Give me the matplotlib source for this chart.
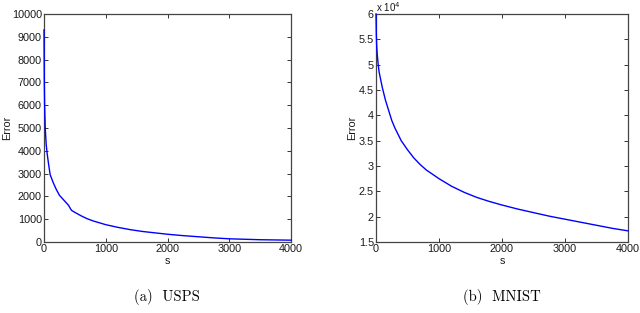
import matplotlib
matplotlib.use("Agg")
import matplotlib.pyplot as plt
import numpy as np

usps_s = [0, 5, 10, 20, 35, 50, 75, 100, 150, 200, 250, 300, 350, 400, 430, 450, 500, 600, 700, 800, 900, 1000,
          1200, 1400, 1600, 1800, 2000, 2250, 2500, 2750, 3000, 3250, 3500, 3750, 4000]
usps_err = [9300, 7000, 6000, 5000, 4300, 3900, 3400, 2950, 2600, 2300, 2050, 1900, 1750, 1600, 1450, 1380,
            1300, 1150, 1020, 920, 840, 760, 640, 540, 460, 400, 340, 280, 230, 180, 140, 120, 100, 90, 80]

mnist_s = [0, 5, 10, 20, 35, 50, 75, 100, 150, 200, 250, 300, 400, 500, 600, 700, 800, 1000, 1200, 1400, 1600,
           1800, 2000, 2250, 2500, 2750, 3000, 3250, 3500, 3750, 4000]
mnist_err = [6.0e4, 5.6e4, 5.4e4, 5.2e4, 5.0e4, 4.85e4, 4.7e4, 4.55e4, 4.3e4, 4.1e4, 3.9e4, 3.75e4, 3.5e4,
             3.32e4, 3.16e4, 3.03e4, 2.92e4, 2.75e4, 2.6e4, 2.48e4, 2.38e4, 2.3e4, 2.23e4, 2.15e4, 2.08e4,
             2.01e4, 1.95e4, 1.89e4, 1.83e4, 1.77e4, 1.72e4]

captions = ["(a)  USPS", "(b)  MNIST"]

W, H = 640, 313
fig = plt.figure(figsize=(W / 100, H / 100), dpi=100)
plt.rcParams['font.family'] = ['Liberation Sans', 'DejaVu Sans']

def add_ax(l, r, t, b):
    return fig.add_axes([l / W, 1 - b / H, (r - l) / W, (b - t) / H])

ax1 = add_ax(44, 291, 14, 242)
ax2 = add_ax(376, 628, 14, 242)

for ax in (ax1, ax2):
    ax.tick_params(direction='in', top=True, right=True, labelsize=7.8, length=3, width=0.7, pad=1.5,
                   colors='#333333', labelcolor='#1a1a1a')
    for sp in ax.spines.values():
        sp.set_linewidth(0.9)
        sp.set_color('#444444')
    ax.set_xlim(0, 4000)
    ax.set_xticks([0, 1000, 2000, 3000, 4000])
    ax.set_xlabel('s', fontsize=7.8, labelpad=1.5, color='#1a1a1a')
    ax.set_ylabel('Error', fontsize=7.8, color='#1a1a1a')

ax1.yaxis.set_label_coords((12 - 44) / 247, 0.5)
ax2.yaxis.set_label_coords((357 - 376) / 252, 0.5)

ax1.plot(usps_s, usps_err, color='#0000ff', lw=1.0, zorder=3, clip_on=False)
ax1.set_ylim(0, 10000)
ax1.set_yticks(np.arange(0, 10001, 1000))

ax2.plot(mnist_s, np.array(mnist_err) / 1e4, color='#0000ff', lw=1.0, zorder=3, clip_on=False)
ax2.set_ylim(1.5, 6)
ax2.set_yticks([1.5, 2, 2.5, 3, 3.5, 4, 4.5, 5, 5.5, 6])
ax2.set_yticklabels(['1.5', '2', '2.5', '3', '3.5', '4', '4.5', '5', '5.5', '6'])
ax2.text(0.0, 1.0, r'x 10$^4$', transform=ax2.transAxes, fontsize=7, va='bottom', ha='left', color='#1a1a1a')

fig.text(167 / W, 1 - 297 / H, captions[0], ha='center', va='center', fontsize=10.5, family=['cmr10', 'DejaVu Serif'])
fig.text(502 / W, 1 - 297 / H, captions[1], ha='center', va='center', fontsize=10.5, family=['cmr10', 'DejaVu Serif'])

fig.savefig('out.png', dpi=100)
